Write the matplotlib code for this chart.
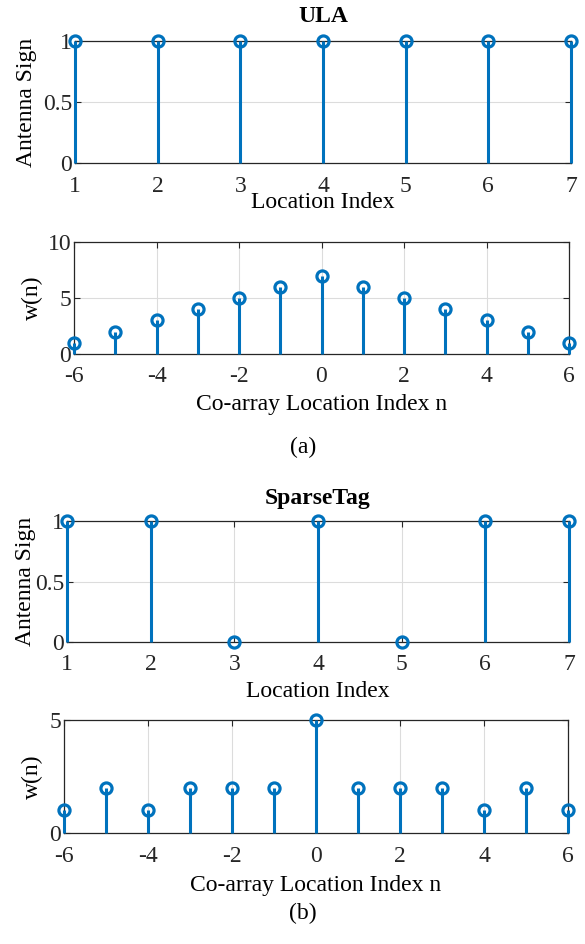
import numpy as np
import matplotlib
matplotlib.use("Agg")
import matplotlib.pyplot as plt

plt.rcParams['font.family'] = ['Liberation Serif', 'DejaVu Serif']
plt.rcParams['font.size'] = 17
plt.rcParams['axes.unicode_minus'] = False

# data
loc_idx = [1, 2, 3, 4, 5, 6, 7]
ula_sign = [1, 1, 1, 1, 1, 1, 1]
sparse_sign = [1, 1, 0, 1, 0, 1, 1]
lag = [-6, -5, -4, -3, -2, -1, 0, 1, 2, 3, 4, 5, 6]
ula_w = [1, 2, 3, 4, 5, 6, 7, 6, 5, 4, 3, 2, 1]
sparse_w = [1, 2, 1, 2, 2, 2, 5, 2, 2, 2, 1, 2, 1]

blue = '#0072BD'
W, H = 585, 944

fig = plt.figure(figsize=(W / 100, H / 100), dpi=100)


def px_axes(l, t, r, b):
    return fig.add_axes([l / W, 1 - b / H, (r - l) / W, (b - t) / H])


def stem_plot(ax, x, y):
    ax.vlines(x, 0, y, color=blue, lw=2.2, zorder=3, clip_on=False)
    ax.plot(x, y, 'o', ms=8, mfc='none', mec=blue, mew=2.3, zorder=4, clip_on=False)


def style(ax):
    ax.grid(True, color='#dcdcdc', lw=0.8)
    ax.set_axisbelow(True)
    for s in ax.spines.values():
        s.set_color('#262626')
        s.set_linewidth(0.9)
    ax.tick_params(direction='in', length=4, width=0.8, color='#262626',
                   top=True, right=True, labelcolor='#262626')
    ax.tick_params(axis='x', pad=9)
    ax.tick_params(axis='y', pad=2)


ax1 = px_axes(75, 41, 571, 163)
stem_plot(ax1, loc_idx, ula_sign)
ax1.set_xlim(1, 7)
ax1.set_ylim(0, 1)
ax1.set_xticks(loc_idx)
ax1.set_yticks([0, 0.5, 1])
ax1.set_yticklabels(['0', '0.5', '1'])
ax1.set_title('ULA', fontweight='bold', fontsize=17, pad=14)
ax1.set_xlabel('Location Index', labelpad=-3.5)
ax1.set_ylabel('Antenna Sign', labelpad=4)
style(ax1)

ax2 = px_axes(74, 242, 569, 354)
stem_plot(ax2, lag, ula_w)
ax2.set_xlim(-6, 6)
ax2.set_ylim(0, 10)
ax2.set_xticks([-6, -4, -2, 0, 2, 4, 6])
ax2.set_yticks([0, 5, 10])
ax2.set_xlabel('Co-array Location Index n', labelpad=5)
ax2.set_ylabel('w(n)', labelpad=3)
style(ax2)

ax3 = px_axes(67, 521, 569, 642)
stem_plot(ax3, loc_idx, sparse_sign)
ax3.set_xlim(1, 7)
ax3.set_ylim(0, 1)
ax3.set_xticks(loc_idx)
ax3.set_yticks([0, 0.5, 1])
ax3.set_yticklabels(['0', '0.5', '1'])
ax3.set_title('SparseTag', fontweight='bold', fontsize=17, pad=12)
ax3.set_xlabel('Location Index', labelpad=4)
ax3.set_ylabel('Antenna Sign', labelpad=-1)
style(ax3)

ax4 = px_axes(64, 720, 568, 833)
stem_plot(ax4, lag, sparse_w)
ax4.set_xlim(-6, 6)
ax4.set_ylim(0, 5)
ax4.set_xticks([-6, -4, -2, 0, 2, 4, 6])
ax4.set_yticks([0, 5])
ax4.set_xlabel('Co-array Location Index n', labelpad=6)
ax4.set_ylabel('w(n)', labelpad=5)
style(ax4)

fig.text(303 / W, 1 - 447 / H, '(a)', ha='center', va='center', fontsize=17)
fig.text(303 / W, 1 - 913 / H, '(b)', ha='center', va='center', fontsize=17)

fig.savefig('out.png', dpi=100)
